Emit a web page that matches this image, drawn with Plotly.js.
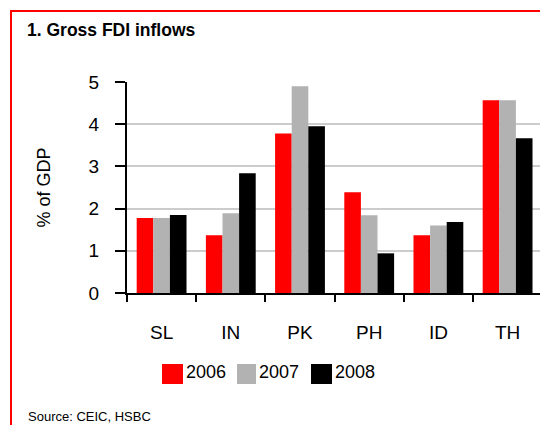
<!DOCTYPE html>
<html>
<head>
<meta charset="utf-8">
<script src="https://cdn.plot.ly/plotly-3.0.1.min.js"></script>
<style>
  html, body { margin: 0; padding: 0; background: #ffffff; }
  #chart { width: 540px; height: 425px; }
</style>
</head>
<body>
<div id="chart"></div>
<script>
// ---- data ----
var categories = ["SL", "IN", "PK", "PH", "ID", "TH"];
var seriesNames = ["2006", "2007", "2008"];
var values2006 = [1.78, 1.37, 3.78, 2.39, 1.37, 4.57];
var values2007 = [1.78, 1.89, 4.90, 1.84, 1.60, 4.57];
var values2008 = [1.85, 2.84, 3.95, 0.94, 1.68, 3.67];
var yTicks = [0, 1, 2, 3, 4, 5];
var titleText = "1. Gross FDI inflows";
var yTitleText = "% of GDP";
var sourceText = "Source: CEIC, HSBC";

// ---- styling ----
var colors = ["#ff0000", "#b2b2b2", "#000000"];
var font = "Liberation Sans, Arial, sans-serif";
var W = 540, H = 425;
var L = 127, R = 0, T = 82, B = 132;
var plotW = W - L - R, plotH = H - T - B;
function px(x) { return (x - L) / plotW; }
function py(y) { return (H - B - y) / plotH; }
var catStep = 69.2;

var allValues = [values2006, values2007, values2008];
var traces = allValues.map(function (vals, i) {
  return {
    type: "bar",
    name: seriesNames[i],
    x: categories,
    y: vals,
    marker: { color: colors[i], line: { width: 0 } },
    showlegend: false,
    hoverinfo: "x+y+name"
  };
});

// manual legend (large squares like the original)
var legendSq = [[162, 183], [237, 256], [311, 332]];
var shapes = [
  { type: "line", xref: "paper", yref: "paper", x0: px(10), x1: px(540), y0: py(11), y1: py(11),
    line: { color: "#ff0000", width: 2 } },
  { type: "line", xref: "paper", yref: "paper", x0: px(11), x1: px(11), y0: py(10), y1: py(425),
    line: { color: "#ff0000", width: 2 } }
];
var annotations = [];
seriesNames.forEach(function (name, i) {
  shapes.push({ type: "rect", xref: "paper", yref: "paper",
    x0: px(legendSq[i][0]), x1: px(legendSq[i][1]), y0: py(364), y1: py(384),
    fillcolor: colors[i], line: { width: 0 } });
  annotations.push({ xref: "paper", yref: "paper", x: px(legendSq[i][1] + 1), y: py(372),
    xanchor: "left", yanchor: "middle", showarrow: false, text: name,
    font: { family: font, size: 18, color: "#000" } });
});
annotations.push({ xref: "paper", yref: "paper", x: px(26), y: py(417),
  xanchor: "left", yanchor: "middle", showarrow: false, text: sourceText,
  font: { family: font, size: 13, color: "#000" } });

var layout = {
  width: W, height: H,
  margin: { l: L, r: R, t: T, b: B, pad: 0 },
  paper_bgcolor: "#ffffff",
  plot_bgcolor: "#ffffff",
  title: { text: "<b>" + titleText + "</b>", xref: "container", yref: "container",
    x: 27 / W, xanchor: "left", y: 1 - 30 / H, yanchor: "middle",
    font: { family: font, size: 17.5, color: "#000" } },
  barmode: "group",
  bargap: 0.28,
  bargroupgap: 0,
  showlegend: false,
  xaxis: {
    type: "category",
    range: [-0.5, -0.5 + plotW / catStep],
    tickson: "boundaries",
    ticks: "outside", ticklen: 7, tickwidth: 2, tickcolor: "#000",
    showline: true, linecolor: "#000", linewidth: 2,
    showgrid: false, zeroline: false,
    ticklabelstandoff: 21,
    tickfont: { family: font, size: 19, color: "#000" },
    fixedrange: true
  },
  yaxis: {
    range: [0, 5],
    tickvals: yTicks,
    ticks: "outside", ticklen: 10, tickwidth: 2, tickcolor: "#000",
    showline: true, linecolor: "#000", linewidth: 2,
    showgrid: true, gridcolor: "#cccccc", gridwidth: 2,
    zeroline: false,
    ticklabelstandoff: 12,
    tickfont: { family: font, size: 19, color: "#000" },
    title: { text: yTitleText, standoff: 33, font: { family: font, size: 18, color: "#000" } },
    automargin: false,
    fixedrange: true
  },
  shapes: shapes,
  annotations: annotations
};

Plotly.newPlot("chart", traces, layout, { displayModeBar: false, staticPlot: true });
</script>
</body>
</html>
